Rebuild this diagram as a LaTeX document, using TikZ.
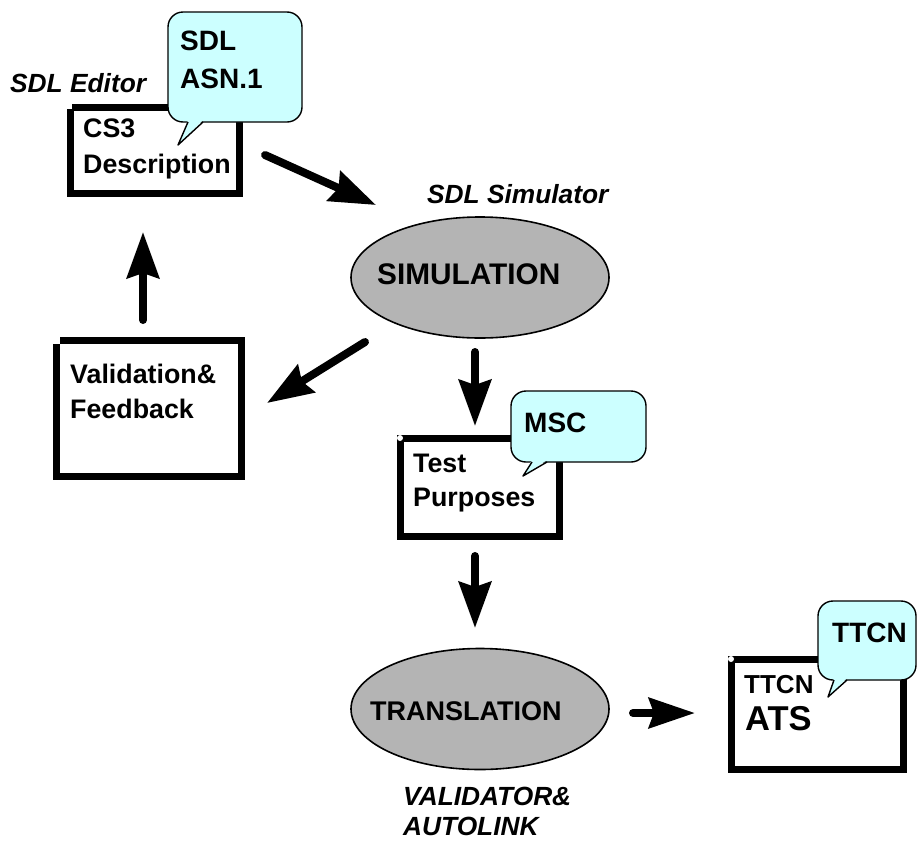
\documentclass[tikz,border=0pt]{standalone}
\usepackage{fontspec}
\setmainfont{Liberation Sans}
\usetikzlibrary{arrows.meta,shapes.geometric}
\definecolor{calloutcyan}{RGB}{204,255,255}
\definecolor{procgray}{RGB}{180,180,180}
\begin{document}
\begin{tikzpicture}[x=1pt,y=-1pt,
  procbox/.style={draw=black,line width=7pt,fill=white,inner sep=0pt,outer sep=0pt},
  procell/.style={ellipse,draw=black,line width=1.6pt,fill=procgray,inner sep=0pt,
                  minimum width=258pt,minimum height=121pt},
  callout/.style={draw=black,line width=1.4pt,fill=calloutcyan,rounded corners=15pt},
  tailfill/.style={fill=calloutcyan},
  tailline/.style={draw=black,line width=1.4pt,line join=round},
  boxtext/.style={anchor=base west,inner sep=0pt,font=\fontsize{26.8}{30}\selectfont\bfseries},
  calltext/.style={anchor=base west,inner sep=0pt,font=\fontsize{28}{32}\selectfont\bfseries},
  proctext/.style={anchor=base west,inner sep=0pt,font=\fontsize{29.8}{34}\selectfont\bfseries},
  tooltext/.style={anchor=base west,inner sep=0pt,font=\fontsize{26.3}{30}\selectfont\bfseries\itshape},
  bigarrow/.style={draw=black,line width=8pt,line cap=round,
                   -{Stealth[length=46pt,width=32pt,inset=5pt]}},
  cornerdot/.style={fill=white}]
\useasboundingbox (0,0) rectangle (918,841);

% ---------- boxes ----------
\node[procbox,minimum width=169pt,minimum height=86pt] (cs3) at (155,150.5) {};
\node[procbox,minimum width=185pt,minimum height=136pt] (valid) at (149,408.5) {};
\node[procbox,minimum width=159pt,minimum height=98pt] (tp) at (480,487.5) {};
\node[procbox,minimum width=172pt,minimum height=110pt] (ats) at (817.5,714.5) {};
\fill[cornerdot] (67,104) rectangle (72,109);
\fill[cornerdot] (53,337) rectangle (60,344);
\fill[cornerdot] (400,438) circle (3pt);
\fill[cornerdot] (731,659) circle (3pt);

% ---------- box texts ----------
\node[boxtext] (cs3a) at (83,137) {CS3};
\node[boxtext] (cs3b) at (83,173) {Description};
\node[boxtext] (vala) at (70,383) {Validation\&};
\node[boxtext] (valb) at (70,418) {Feedback};
\node[boxtext] (tpa) at (413,472) {Test};
\node[boxtext] (tpb) at (413,506) {Purposes};
\node[boxtext,font=\fontsize{26}{30}\selectfont\bfseries] (atsa) at (744,693) {TTCN};
\node[boxtext,font=\fontsize{34.5}{38}\selectfont\bfseries] (atsb) at (745,730) {ATS};

% ---------- process ellipses ----------
\node[procell] (sim) at (480,277.5) {};
\node[proctext] (simt) at (377,284) {SIMULATION};
\node[procell] (trans) at (480,709) {};
\node[proctext,font=\fontsize{27}{32}\selectfont\bfseries] (transt) at (370,720) {TRANSLATION};

% ---------- tool labels ----------
\node[tooltext] (edl) at (10,92) {SDL Editor};
\node[tooltext] (siml) at (427,203) {SDL Simulator};
\node[tooltext] (vall) at (403,805) {VALIDATOR\&};
\node[tooltext] (autol) at (403,835) {AUTOLINK};

% ---------- callouts ----------
\draw[callout] (168,12) rectangle (302,122);
\fill[tailfill] (188,120) -- (178,145) -- (203,120) -- cycle;
\draw[tailline] (188,122) -- (178,145) -- (203,122);
\node[calltext] (c1a) at (180,50) {SDL};
\node[calltext] (c1b) at (180,88) {ASN.1};

\draw[callout] (511,391) rectangle (646,462);
\fill[tailfill] (532,460) -- (523,476) -- (547,460) -- cycle;
\draw[tailline] (532,462) -- (523,476) -- (547,462);
\node[calltext] (c2) at (524,432) {MSC};

\draw[callout] (818,601) rectangle (916,680);
\fill[tailfill] (834,678) -- (828,697) -- (847,678) -- cycle;
\draw[tailline] (834,680) -- (828,697) -- (847,680);
\node[calltext] (c3) at (832,642) {TTCN};

% ---------- connectors ----------
\coordinate (a1s) at (265,155);
\coordinate (a1e) at (376,205);
\coordinate (a2s) at (143,320);
\coordinate (a2e) at (143,232);
\coordinate (a3s) at (365,342);
\coordinate (a3e) at (267,403);
\coordinate (a4s) at (475,352);
\coordinate (a4e) at (475,426);
\coordinate (a5s) at (475,556);
\coordinate (a5e) at (475,628);
\coordinate (a6s) at (633,713);
\coordinate (a6e) at (695,713);
\draw[bigarrow] (a1s) -- (a1e);
\draw[bigarrow] (a2s) -- (a2e);
\draw[bigarrow] (a3s) -- (a3e);
\draw[bigarrow] (a4s) -- (a4e);
\draw[bigarrow] (a5s) -- (a5e);
\draw[bigarrow,-{Stealth[length=46pt,width=30pt,inset=5pt]}] (a6s) -- (a6e);
\end{tikzpicture}
\end{document}
